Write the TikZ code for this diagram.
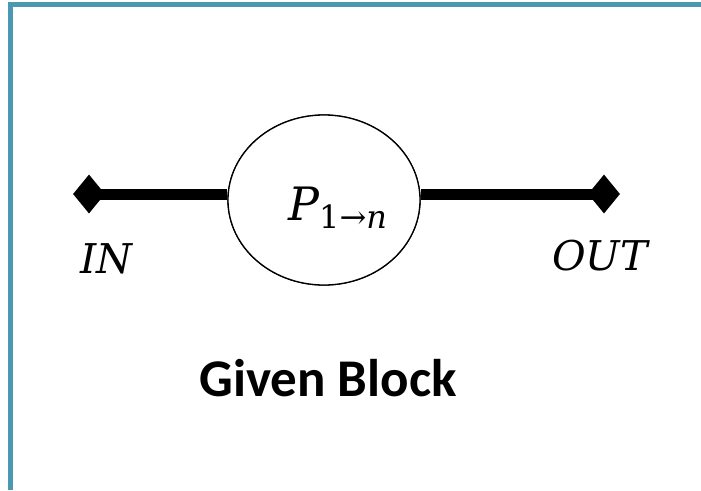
\documentclass[tikz,border=0pt]{standalone}
\usepackage{fontspec}
\newfontfamily\calib{Carlito}
\newfontfamily\dvs{DejaVu Serif}
\usetikzlibrary{shapes.geometric}
\definecolor{framecol}{HTML}{4A98B3}
\tikzset{
  framebar/.style={framecol, line width=5pt},
  endpoint/.style={diamond, fill=black, draw=none, inner sep=0pt, minimum height=39pt, minimum width=32pt},
  wire/.style={line width=11pt, black},
  block/.style={ellipse, draw=black, line width=1.3pt, fill=white, minimum width=192pt, minimum height=170pt, inner sep=0pt},
  mathlabel/.style={inner sep=0pt, anchor=base west, font=\dvs\itshape\fontsize{41}{41}\selectfont},
  title/.style={inner sep=0pt, anchor=base, font=\calib\bfseries\fontsize{53}{53}\selectfont}
}
\begin{document}
\begin{tikzpicture}[x=1pt,y=-1pt]
\useasboundingbox (0,0) rectangle (701,490);
\coordinate (fl) at (10.5,490);
\coordinate (fc) at (10.5,4.5);
\coordinate (fr) at (701,4.5);
\draw[framebar] (fl) -- (fc) -- (fr);
\node[endpoint] (in) at (89,194) {};
\node[endpoint] (out) at (604,194) {};
\node[block] (p) at (324,200) {};
\draw[wire] (in.center) -- (p.west |- in.center);
\draw[wire] (out.center) -- (p.east |- out.center);
\node[block] (p2) at (324,200) {};
\node[mathlabel, font=\dvs\itshape\fontsize{46}{46}\selectfont] (pl) at (288,220) {P\raisebox{-8pt}{\fontsize{32}{32}\selectfont\upshape 1→\itshape n}};
\node[mathlabel] (inl) at (80,273) {IN};
\node[mathlabel] (outl) at (552,270) {OUT};
\node[title] (t) at (328,396) {Given Block};
\end{tikzpicture}
\end{document}
